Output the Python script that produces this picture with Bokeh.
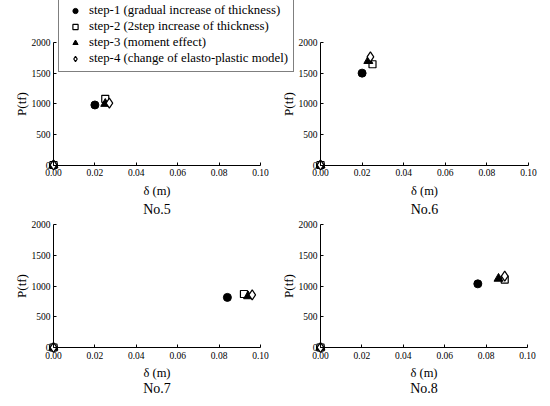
from bokeh.plotting import figure
from bokeh.models import (Range1d, LinearAxis, FixedTicker, PrintfTickFormatter,
                          Legend, LegendItem, Label, Grid)
from bokeh.embed import file_html
from bokeh.resources import INLINE

# ---------------- data ----------------
panel_names = ["No.5", "No.6", "No.7", "No.8"]
origin_delta = 0.0
origin_p = 0.0
step1_delta = [0.020, 0.020, 0.084, 0.076]
step1_p = [980, 1500, 815, 1035]
step2_delta = [0.025, 0.025, 0.092, 0.089]
step2_p = [1080, 1645, 870, 1105]
step3_delta = [0.025, 0.023, 0.094, 0.086]
step3_p = [1000, 1700, 835, 1120]
step4_delta = [0.027, 0.024, 0.096, 0.089]
step4_p = [1010, 1765, 855, 1160]
series_labels = [
    "step-1 (gradual increase of thickness)",
    "step-2 (2step increase of thickness)",
    "step-3 (moment effect)",
    "step-4 (change of elasto-plastic model)",
]
x_ticks = [0.0, 0.02, 0.04, 0.06, 0.08, 0.10]
y_ticks = [0, 500, 1000, 1500, 2000]
x_label = "δ (m)"
y_label = "P(tf)"

# ---------------- layout (canvas pixels) ----------------
W, H = 542, 398
FONT = "Liberation Serif"
# (px of x=0, px of x=max, px of y=0, px of y=max, caption offset), from canvas top-left
boxes = [
    (53, 260, 164.5, 42, 44),
    (320, 528, 164.5, 42, 44),
    (53, 260, 347, 224, 41),
    (320, 527, 347, 224, 41),
]
x_max = x_ticks[-1]
y_max = y_ticks[-1]

p = figure(width=W, height=H, output_backend="svg", toolbar_location=None,
           x_axis_location=None, y_axis_location=None,
           x_range=Range1d(0, W), y_range=Range1d(H, 0), min_border=0)
p.outline_line_color = None
p.background_fill_color = "white"
p.border_fill_color = "white"
for g in p.select(type=Grid):
    g.visible = False

series = [
    (step1_delta, step1_p, dict(marker="circle", size=8, fill_color="black", line_color="black")),
    (step2_delta, step2_p, dict(marker="square", size=7, fill_color="white", line_color="black", line_width=1.2)),
    (step3_delta, step3_p, dict(marker="triangle", size=9, fill_color="black", line_color="black")),
    (step4_delta, step4_p, dict(marker="diamond", size=10, fill_color="white", line_color="black", line_width=1.2)),
]

legend_renderers = []
for i, name in enumerate(panel_names):
    a, b, y0, y1, cap = boxes[i]
    xper = x_max / (b - a)
    yper = y_max / (y0 - y1)
    xn, yn = f"x{i}", f"y{i}"
    p.extra_x_ranges[xn] = Range1d(start=-a * xper, end=(W - a) * xper)
    p.extra_y_ranges[yn] = Range1d(start=-(H - y0) * yper, end=y0 * yper)

    xa = LinearAxis(x_range_name=xn, y_range_name=yn, fixed_location=0,
                    bounds=(x_ticks[0], x_ticks[-1]),
                    ticker=FixedTicker(ticks=x_ticks),
                    formatter=PrintfTickFormatter(format="%.2f"),
                    axis_label=x_label)
    ya = LinearAxis(x_range_name=xn, y_range_name=yn, fixed_location=0,
                    bounds=(y_ticks[0], y_ticks[-1]),
                    ticker=FixedTicker(ticks=y_ticks),
                    formatter=PrintfTickFormatter(format="%d"),
                    axis_label=y_label)
    for ax in (xa, ya):
        ax.axis_line_color = "black"
        ax.axis_line_width = 1
        ax.major_tick_in = 3
        ax.major_tick_out = 0
        ax.major_tick_line_color = "black"
        ax.minor_tick_line_color = None
        ax.major_label_text_font = FONT
        ax.major_label_text_font_size = "9.5px"
        ax.major_label_text_color = "black"
        ax.axis_label_text_font = FONT
        ax.axis_label_text_font_style = "normal"
        ax.axis_label_text_color = "black"
    xa.major_label_standoff = 4
    xa.axis_label_text_font_size = "12.5px"
    xa.axis_label_standoff = 4
    ya.major_label_standoff = 3
    ya.axis_label_text_font_size = "13px"
    ya.axis_label_standoff = 0
    p.add_layout(xa, "below")
    p.add_layout(ya, "left")

    for k, (dx, py, style) in enumerate(series):
        r = p.scatter(x=[origin_delta, dx[i]], y=[origin_p, py[i]],
                      x_range_name=xn, y_range_name=yn, **style)
        if i == 0:
            legend_renderers.append(r)

    p.add_layout(Label(x=(a + b) / 2, y=y0 + cap, text=name,
                       text_font=FONT, text_font_size="14px", text_color="black",
                       text_align="center", text_baseline="middle"))

# legend box: left edge at canvas x=58, bottom edge at canvas y=72
legend = Legend(
    items=[LegendItem(label=lbl, renderers=[r]) for lbl, r in zip(series_labels, legend_renderers)],
    location=(58, H - 72),
    padding=5, spacing=1, margin=0,
    glyph_width=22, glyph_height=13, label_height=13, label_standoff=3,
    label_text_font=FONT, label_text_font_size="12.8px", label_text_color="black",
    border_line_color="black", border_line_width=1,
    background_fill_color="white", background_fill_alpha=1.0,
)
p.add_layout(legend)

open("out.html", "w").write(file_html(p, INLINE))
